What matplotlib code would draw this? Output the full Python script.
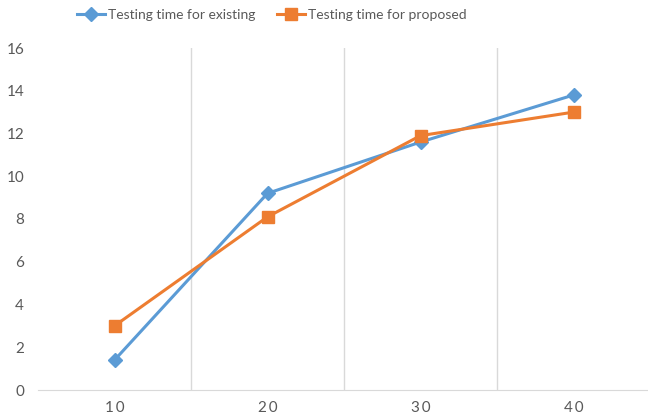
import matplotlib.pyplot as plt
import numpy as np

categories = ["1\u20090", "2\u20090", "3\u20090", "4\u20090"]
existing = [1.4, 9.2, 11.6, 13.8]
proposed = [3.0, 8.1, 11.9, 13.0]

plt.rcParams['font.family'] = ['Lato', 'DejaVu Sans']

fig = plt.figure(figsize=(6.48, 4.16), dpi=100)
ax = fig.add_axes([38 / 648, 26 / 416, 612 / 648, 342 / 416])

x = np.arange(1, len(categories) + 1)
ax.plot(x, existing, color='#5b9bd5', lw=2.2, marker='D', ms=7,
        label='Testing time for existing')
ax.plot(x, proposed, color='#ed7d31', lw=2.2, marker='s', ms=9,
        label='Testing time for proposed')

ax.set_xlim(0.5, 4.5)
ax.set_ylim(0, 16)
ax.set_yticks(range(0, 17, 2))
ax.set_xticks(x)
ax.set_xticklabels(categories)

# vertical lines between the categories
for b in x[:-1] + 0.5:
    ax.axvline(b, color='#d9d9d9', lw=1, zorder=0)

for s in ['top', 'right', 'left']:
    ax.spines[s].set_visible(False)
ax.spines['bottom'].set_color('#d9d9d9')
ax.tick_params(length=0, labelsize=11, labelcolor='#595959')
ax.tick_params(axis='x', pad=8)
ax.tick_params(axis='y', pad=10)

fig.legend(loc='center', bbox_to_anchor=(272 / 648, 1 - 15 / 416), ncol=2,
           frameon=False, fontsize=10, labelcolor='#595959',
           handlelength=2.0, columnspacing=1.6, handletextpad=0.2)

fig.savefig('out.png', dpi=100)
